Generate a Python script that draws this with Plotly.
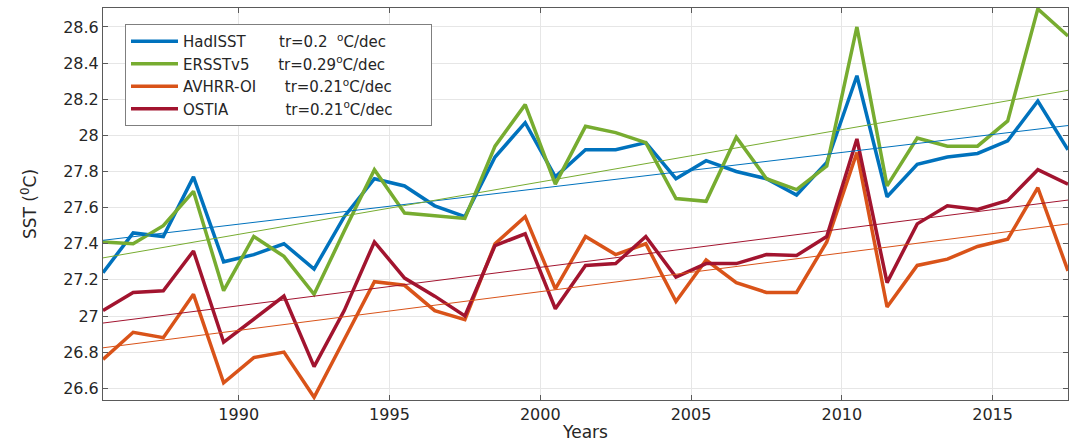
import numpy as np
import plotly.graph_objects as go

years = [1985.5, 1986.5, 1987.5, 1988.5, 1989.5, 1990.5, 1991.5, 1992.5, 1993.5,
         1994.5, 1995.5, 1996.5, 1997.5, 1998.5, 1999.5, 2000.5, 2001.5,
         2002.5, 2003.5, 2004.5, 2005.5, 2006.5, 2007.5, 2008.5, 2009.5,
         2010.5, 2011.5, 2012.5, 2013.5, 2014.5, 2015.5, 2016.5, 2017.5]

hadisst = [27.24, 27.46, 27.44, 27.77, 27.30, 27.34, 27.40, 27.26, 27.55,
           27.76, 27.72, 27.61, 27.55, 27.88, 28.07, 27.77, 27.92,
           27.92, 27.96, 27.76, 27.86, 27.80, 27.76, 27.67, 27.85,
           28.33, 27.66, 27.84, 27.88, 27.90, 27.97, 28.19, 27.92]

ersstv5 = [27.41, 27.40, 27.50, 27.69, 27.14, 27.44, 27.33, 27.12, 27.47,
           27.81, 27.57, 27.555, 27.54, 27.94, 28.17, 27.73, 28.05,
           28.015, 27.96, 27.65, 27.635, 27.99, 27.76, 27.70, 27.83,
           28.60, 27.72, 27.985, 27.94, 27.94, 28.08, 28.70, 28.55]

avhrr = [26.76, 26.91, 26.88, 27.12, 26.63, 26.77, 26.80, 26.55, 26.87,
         27.19, 27.17, 27.03, 26.98, 27.40, 27.55, 27.15, 27.44,
         27.34, 27.40, 27.08, 27.31, 27.185, 27.13, 27.13, 27.41,
         27.905, 27.05, 27.28, 27.315, 27.385, 27.425, 27.71, 27.25]

ostia = [27.03, 27.13, 27.14, 27.36, 26.855, 26.98, 27.11, 26.72, 27.03,
         27.41, 27.21, 27.11, 27.00, 27.39, 27.455, 27.04, 27.28,
         27.29, 27.44, 27.215, 27.29, 27.29, 27.34, 27.335, 27.44,
         27.98, 27.185, 27.51, 27.61, 27.59, 27.64, 27.81, 27.73]

NB = "\u00a0"
DEG = "<sup>o</sup>"
names = ["HadISST" + NB * 7 + "tr=0.2" + NB * 2 + DEG + "C/dec" + NB * 7,
         "ERSSTv5" + NB * 6 + "tr=0.29" + DEG + "C/dec" + NB * 7,
         "AVHRR-OI" + NB * 6 + "tr=0.21" + DEG + "C/dec" + NB * 7,
         "OSTIA" + NB * 12 + "tr=0.21" + DEG + "C/dec" + NB * 7]
series = [hadisst, ersstv5, avhrr, ostia]
colors = ["#0072BD", "#77AC30", "#D95319", "#A2142F"]

x_ticks = [1990, 1995, 2000, 2005, 2010, 2015]
y_ticks = [26.6, 26.8, 27.0, 27.2, 27.4, 27.6, 27.8, 28.0, 28.2, 28.4, 28.6]
y_tick_text = ["26.6", "26.8", "27", "27.2", "27.4", "27.6", "27.8", "28", "28.2", "28.4", "28.6"]

FONT = "DejaVu Sans"
TXT = "#262626"

fig = go.Figure()
for nm, ys, c in zip(names, series, colors):
    fig.add_trace(go.Scatter(x=years, y=ys, mode="lines", name=nm,
                             line=dict(color=c, width=3.5)))

xa = np.array(years)
for ys, c in zip(series, colors):
    p = np.polyfit(xa, np.array(ys), 1)
    xe = np.array([years[0], years[-1]])
    fig.add_trace(go.Scatter(x=xe, y=np.polyval(p, xe), mode="lines",
                             showlegend=False, hoverinfo="skip",
                             line=dict(color=c, width=1)))

axis_common = dict(showline=True, linecolor="#5a5a5a", linewidth=1, mirror="ticks",
                   ticks="inside", ticklen=5, tickcolor="#5a5a5a",
                   showgrid=True, gridcolor="#e6e6e6", gridwidth=1,
                   zeroline=False, tickfont=dict(family=FONT, size=16, color=TXT))

fig.update_layout(
    width=1070, height=448,
    margin=dict(l=103, r=2, t=8, b=48),
    paper_bgcolor="white", plot_bgcolor="white",
    font=dict(family=FONT, color=TXT),
    xaxis=dict(range=[1985.5, 2017.5], tickvals=x_ticks,
               title=dict(text="Years", font=dict(family=FONT, size=17, color=TXT), standoff=2),
               **axis_common),
    yaxis=dict(range=[26.535, 28.705], tickvals=y_ticks, ticktext=y_tick_text,
               title=dict(text="SST (<sup>0</sup>C)", font=dict(family=FONT, size=17, color=TXT), standoff=22),
               **axis_common),
    legend=dict(x=0.0228, y=0.959, xanchor="left", yanchor="top",
                bgcolor="white", bordercolor="#7f7f7f", borderwidth=1,
                font=dict(family=FONT, size=15, color=TXT),
                itemwidth=47, tracegroupgap=0),
    showlegend=True,
)

fig.write_html("out.html", config={"displayModeBar": False},
               post_script="document.body.style.margin='0';document.body.style.overflow='hidden';")
